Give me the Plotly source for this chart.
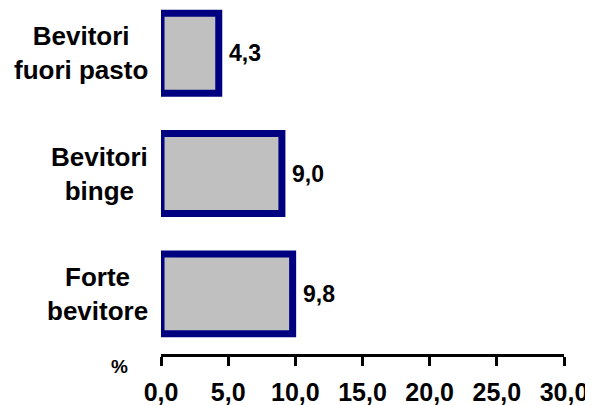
import plotly.graph_objects as go

# Data (top-to-bottom order as in the picture)
categories = ["Bevitori<br>fuori pasto", "Bevitori<br>binge", "Forte<br>bevitore"]
values = [4.3, 9.0, 9.8]
value_labels = ["4,3", "9,0", "9,8"]
tick_values = [0, 5, 10, 15, 20, 25, 30]
tick_labels = ["0,0", "5,0", "10,0", "15,0", "20,0", "25,0", "30,0"]

# plotly puts the first category at the bottom -> reverse
cats = categories[::-1]
vals = values[::-1]
vlabs = value_labels[::-1]

FONT = "Liberation Sans, Arial, sans-serif"

# the page body has an 8px margin, so the figure is 8px smaller
fig = go.Figure()
fig.add_trace(go.Bar(
    x=vals, y=cats, orientation="h",
    width=0.665,
    marker=dict(color="#C0C0C0", line=dict(color="#000080", width=7)),
    hoverinfo="skip",
))

annotations = []
for c in cats:
    annotations.append(dict(
        x=0, xref="paper", y=c, yref="y", text="<b>%s</b>" % c,
        showarrow=False, xanchor="right", yanchor="middle", align="center",
        xshift=-11, font=dict(family=FONT, size=26, color="black"),
    ))
for c, v, lab in zip(cats, vals, vlabs):
    annotations.append(dict(
        x=v, xref="x", y=c, yref="y", text="<b>%s</b>" % lab,
        showarrow=False, xanchor="left", yanchor="middle",
        xshift=8, font=dict(family=FONT, size=23, color="black"),
    ))
annotations.append(dict(
    x=-41 / 402.7, xref="paper", y=-12 / 346, yref="paper", text="<b>%</b>",
    showarrow=False, xanchor="center", yanchor="middle",
    font=dict(family=FONT, size=19, color="black"),
))

fig.update_layout(
    width=585, height=397,
    margin=dict(l=153, r=29, t=0, b=51, autoexpand=False),
    paper_bgcolor="white", plot_bgcolor="white",
    showlegend=False,
    separators=",.",
    font=dict(family=FONT, color="black"),
    xaxis=dict(
        range=[0, 30], tickvals=tick_values, ticktext=["<b>%s</b>" % t for t in tick_labels],
        showline=True, linecolor="black", linewidth=2.5,
        ticks="outside", ticklen=9, tickwidth=2.5, tickcolor="black",
        showgrid=False, zeroline=False, automargin=False,
        tickfont=dict(family=FONT, size=25, color="black"),
        ticklabelstandoff=5,
    ),
    yaxis=dict(
        range=[-0.5, 2.377], showticklabels=False, showline=False,
        showgrid=False, zeroline=False, ticks="", automargin=False,
    ),
    annotations=annotations,
)

fig.write_html("out.html")
